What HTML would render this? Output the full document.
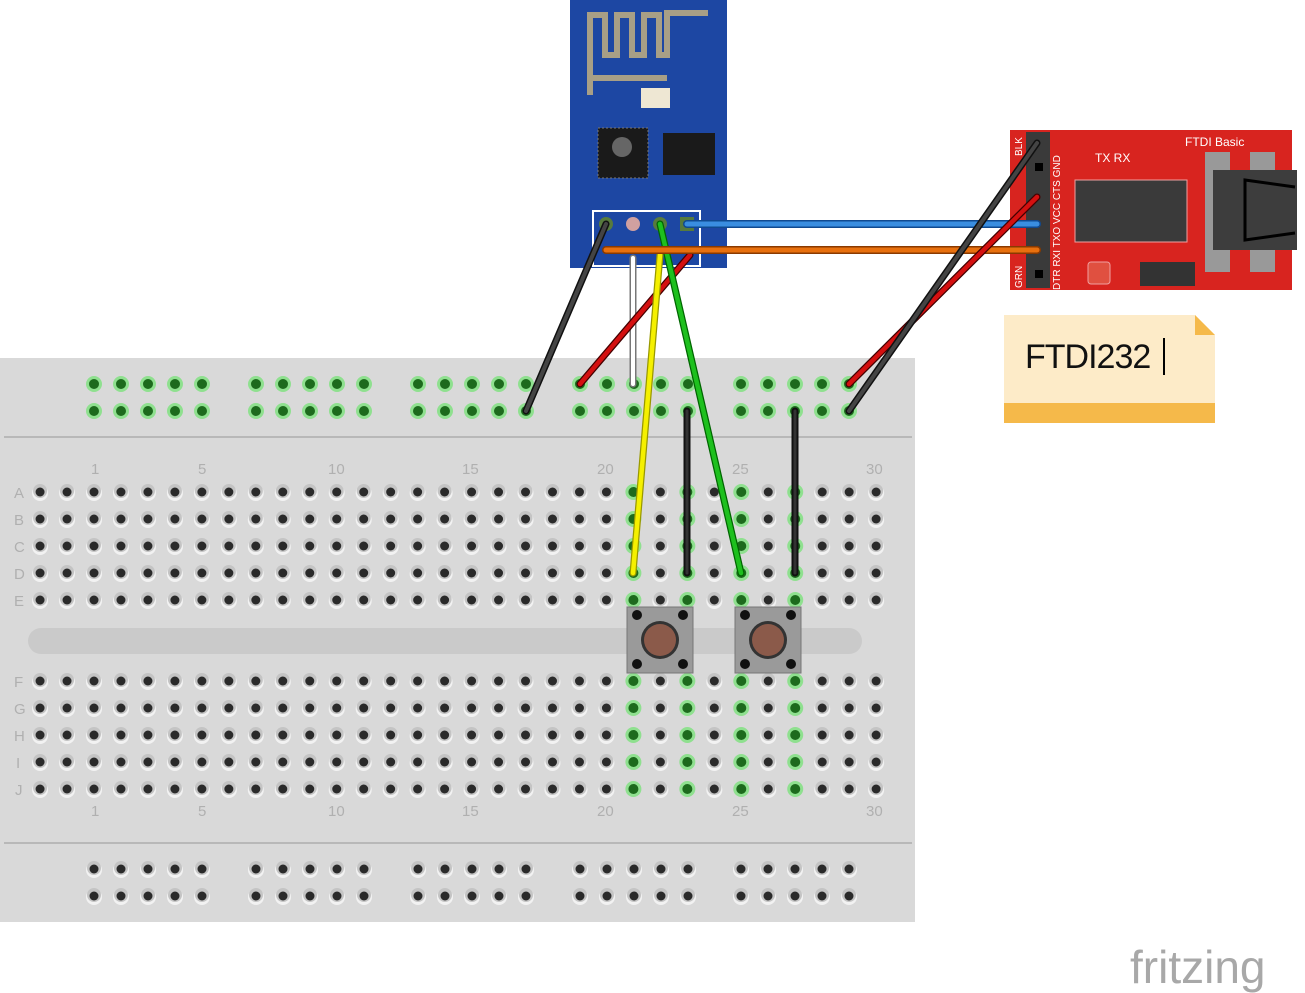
<!DOCTYPE html>
<html><head><meta charset="utf-8"><style>
html,body{margin:0;padding:0;background:#fff;width:1305px;height:993px;overflow:hidden}
svg{display:block}
text{font-family:"Liberation Sans",sans-serif}
</style></head><body>
<svg id="s" width="1305" height="993" viewBox="0 0 1305 993" xmlns="http://www.w3.org/2000/svg">
<rect x="0" y="358" width="915" height="564" fill="#d9d9d9"/>
<line x1="4" y1="437" x2="912" y2="437" stroke="#b8b8b8" stroke-width="2"/>
<line x1="4" y1="843" x2="912" y2="843" stroke="#b8b8b8" stroke-width="2"/>
<rect x="28" y="628" width="834" height="26" rx="13" fill="#cacaca"/>
<g id="holes"></g>
<g font-size="15" fill="#b0b0b0">
<text x="91" y="474">1</text><text x="198" y="474">5</text><text x="328" y="474">10</text><text x="462" y="474">15</text><text x="597" y="474">20</text><text x="732" y="474">25</text><text x="866" y="474">30</text>
<text x="91" y="816">1</text><text x="198" y="816">5</text><text x="328" y="816">10</text><text x="462" y="816">15</text><text x="597" y="816">20</text><text x="732" y="816">25</text><text x="866" y="816">30</text>
<text x="14" y="498">A</text><text x="14" y="525">B</text><text x="14" y="552">C</text><text x="14" y="579">D</text><text x="14" y="606">E</text>
<text x="14" y="687">F</text><text x="14" y="714">G</text><text x="14" y="741">H</text><text x="16" y="768">I</text><text x="15" y="795">J</text>
</g>
<g>
<rect x="627" y="607" width="66" height="66" fill="#9a9a9a" stroke="#777"/>
<circle cx="660" cy="640" r="19" fill="#333"/><circle cx="660" cy="640" r="16" fill="#8b5a4a"/>
<circle cx="637" cy="615" r="5" fill="#111"/><circle cx="683" cy="615" r="5" fill="#111"/><circle cx="637" cy="664" r="5" fill="#111"/><circle cx="683" cy="664" r="5" fill="#111"/>
<rect x="735" y="607" width="66" height="66" fill="#9a9a9a" stroke="#777"/>
<circle cx="768" cy="640" r="19" fill="#333"/><circle cx="768" cy="640" r="16" fill="#8b5a4a"/>
<circle cx="745" cy="615" r="5" fill="#111"/><circle cx="791" cy="615" r="5" fill="#111"/><circle cx="745" cy="664" r="5" fill="#111"/><circle cx="791" cy="664" r="5" fill="#111"/>
</g>
<rect x="570" y="0" width="157" height="268" fill="#1d47a3"/>
<path d="M590 95 V15 H605 V55 H617 V15 H632 V55 H644 V15 H659 V55 H667 V13 H708" fill="none" stroke="#a89f86" stroke-width="6"/>
<line x1="590" y1="78" x2="667" y2="78" stroke="#a89f86" stroke-width="6"/>
<rect x="641" y="88" width="29" height="20" fill="#eee7d3"/>
<rect x="598" y="128" width="50" height="50" fill="#1a1a1a" stroke="#777" stroke-dasharray="2 2"/>
<circle cx="622" cy="147" r="10" fill="#666"/>
<rect x="663" y="133" width="52" height="42" fill="#1a1a1a"/>
<rect x="593" y="211" width="107" height="55" fill="none" stroke="#fff" stroke-width="2"/>
<circle cx="606" cy="224" r="7" fill="#577a3d"/><circle cx="633" cy="224" r="7" fill="#d0a0a0"/><circle cx="660" cy="224" r="7" fill="#577a3d"/><rect x="680" y="217" width="14" height="14" fill="#577a3d"/>
<rect x="1010" y="130" width="282" height="160" fill="#d8241f"/>
<rect x="1026" y="132" width="24" height="156" fill="#3a3a3a"/>
<rect x="1035" y="163" width="8" height="8" fill="#000"/><rect x="1035" y="270" width="8" height="8" fill="#000"/>
<rect x="1075" y="180" width="112" height="62" fill="#3a3a3a" stroke="#f0a0a0"/>
<rect x="1205" y="152" width="25" height="120" fill="#999"/><rect x="1250" y="152" width="25" height="120" fill="#999"/>
<rect x="1213" y="170" width="84" height="80" fill="#3d3d3d"/>
<path d="M1295 187 L1245 180 V240 L1295 233" fill="none" stroke="#000" stroke-width="3"/>
<rect x="1088" y="262" width="22" height="22" rx="3" fill="#e05040" stroke="#f0a0a0"/>
<rect x="1140" y="262" width="55" height="24" fill="#333"/>
<g font-family="Liberation Mono" font-size="12" fill="#fff">
<text x="1185" y="146">FTDI Basic</text><text x="1095" y="162">TX RX</text>
<g font-size="10"><text transform="translate(1022,156) rotate(-90)">BLK</text><text transform="translate(1060,290) rotate(-90)">DTR RXI TXO VCC CTS GND</text><text transform="translate(1022,288) rotate(-90)">GRN</text></g>
</g>
<g fill="none" stroke-linecap="round">
<line x1="633" y1="258" x2="633" y2="384" stroke="#777" stroke-width="7"/><line x1="633" y1="258" x2="633" y2="384" stroke="#fff" stroke-width="4"/>
<line x1="690" y1="255" x2="580" y2="384" stroke="#400" stroke-width="7"/><line x1="690" y1="255" x2="580" y2="384" stroke="#d41010" stroke-width="4.5"/>
<line x1="606" y1="224" x2="526" y2="411" stroke="#111" stroke-width="7"/><line x1="606" y1="224" x2="526" y2="411" stroke="#444" stroke-width="4"/>
<line x1="660" y1="255" x2="633" y2="573" stroke="#990" stroke-width="7"/><line x1="660" y1="255" x2="633" y2="573" stroke="#f5f000" stroke-width="4.5"/>
<line x1="660" y1="224" x2="741" y2="573" stroke="#060" stroke-width="7"/><line x1="660" y1="224" x2="741" y2="573" stroke="#1ec01e" stroke-width="4.5"/>
<line x1="687" y1="411" x2="687" y2="573" stroke="#111" stroke-width="7"/><line x1="687" y1="411" x2="687" y2="573" stroke="#333" stroke-width="3"/>
<line x1="795" y1="411" x2="795" y2="573" stroke="#111" stroke-width="7"/><line x1="795" y1="411" x2="795" y2="573" stroke="#333" stroke-width="3"/>
<line x1="606" y1="250" x2="1037" y2="250" stroke="#8a3a00" stroke-width="8"/><line x1="606" y1="250" x2="1037" y2="250" stroke="#e8700e" stroke-width="5"/>
<line x1="687" y1="224" x2="1037" y2="224" stroke="#104a90" stroke-width="8"/><line x1="687" y1="224" x2="1037" y2="224" stroke="#3a8ee0" stroke-width="5"/>
<line x1="849" y1="384" x2="1037" y2="197" stroke="#400" stroke-width="7"/><line x1="849" y1="384" x2="1037" y2="197" stroke="#d41010" stroke-width="4.5"/>
<line x1="849" y1="411" x2="1037" y2="143" stroke="#111" stroke-width="7"/><line x1="849" y1="411" x2="1037" y2="143" stroke="#444" stroke-width="4"/>
</g>
<path d="M1004 315 H1195 L1215 335 V423 H1004 Z" fill="#fdebc8"/>
<path d="M1195 315 L1215 335 H1195 Z" fill="#f5b94a"/>
<rect x="1004" y="403" width="211" height="20" fill="#f5b94a"/>
<text x="1025" y="368" font-size="34" fill="#111" font-family="DejaVu Sans" letter-spacing="-1">FTDI232</text>
<line x1="1164" y1="338" x2="1164" y2="375" stroke="#000" stroke-width="2"/>
<text x="1130" y="983" font-size="46" fill="#a8a8a8" font-family="DejaVu Sans" letter-spacing="0">fritzing</text>
</svg>
<script>
var g=document.getElementById('holes'),h='';
function hole(x,y,gr){
 if(gr){h+='<circle cx="'+x+'" cy="'+y+'" r="8" fill="#8fe08f"/><circle cx="'+x+'" cy="'+y+'" r="5" fill="#1d6a1d"/>';}
 else{h+='<circle cx="'+x+'" cy="'+(y+1)+'" r="8" fill="#f2f2f2"/><circle cx="'+x+'" cy="'+(y-1)+'" r="7" fill="#c4c4c4"/><circle cx="'+x+'" cy="'+y+'" r="4.5" fill="#2a2a2a"/>';}
}
var rows=[492,519,546,573,600,681,708,735,762,789];
var gc=[21,23,25,27];
for(var c=-1;c<=30;c++){var x=94+26.97*(c-1);for(var r=0;r<rows.length;r++)hole(x,rows[r],gc.indexOf(c)>=0);}
var gs=[94,256,418,580,741];
gs.forEach(function(s){for(var i=0;i<5;i++){var x=s+27*i;hole(x,384,true);hole(x,411,true);hole(x,869,false);hole(x,896,false);}});
g.innerHTML=h;
</script>
</body></html>
